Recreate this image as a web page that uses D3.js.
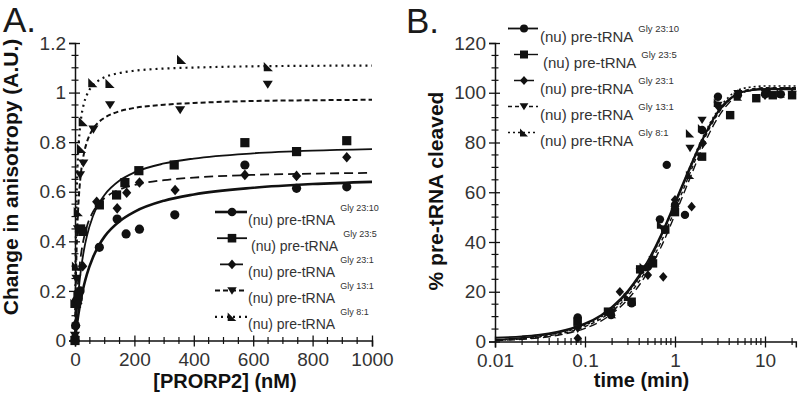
<!DOCTYPE html>
<html>
<head>
<meta charset="utf-8">
<script src="https://cdn.jsdelivr.net/npm/d3@7"></script>
<style>
  body { margin: 0; background: #fff; }
  svg { display: block; font-family: "Liberation Sans", Arial, sans-serif; }
</style>
</head>
<body>
<svg id="fig" width="800" height="395"></svg>
<script>
// ---------- data ----------
const seriesLabels = ["23:10", "23:5", "23:1", "13:1", "8:1"];

// Panel A: anisotropy vs [PRORP2] (nM), measured points [x, y]
const bind2310 = [[0, 0], [2, 0.06], [5, 0.16], [10, 0.17], [17, 0.2], [82, 0.376], [142, 0.49], [172, 0.43], [217, 0.449], [336, 0.507], [572, 0.708], [746, 0.614], [915, 0.62]];
const bind235 = [[0, 0], [5, 0.15], [10, 0.177], [19, 0.45], [26, 0.44], [82, 0.547], [140, 0.587], [168, 0.637], [215, 0.685], [334, 0.708], [572, 0.798], [746, 0.762], [915, 0.806]];
const bind231 = [[0, 0.015], [3, 0.06], [10, 0.15], [26, 0.3], [73, 0.56], [142, 0.533], [174, 0.596], [217, 0.637], [337, 0.607], [572, 0.668], [746, 0.664], [915, 0.739]];
const bind131 = [[0, 0.02], [5, 0.25], [10, 0.45], [17, 0.668], [28, 0.715], [62, 0.852], [118, 0.95], [354, 0.93], [649, 1.033]];
const bind81 = [[0, 0.15], [5, 0.3], [11, 0.52], [22, 0.775], [28, 0.883], [60, 1.04], [118, 1.037], [359, 1.134], [651, 1.105]];

// Panel A fitted curves at these concentrations
const bindFitX = [0, 2, 5, 10, 15, 20, 30, 40, 60, 80, 100, 150, 200, 300, 400, 600, 800, 1000];
const bindFit2310 = [0, 0.021, 0.051, 0.094, 0.132, 0.166, 0.222, 0.267, 0.334, 0.383, 0.42, 0.481, 0.519, 0.564, 0.589, 0.616, 0.631, 0.64];
const bindFit235 = [0, 0.042, 0.098, 0.174, 0.235, 0.286, 0.364, 0.421, 0.5, 0.552, 0.588, 0.645, 0.678, 0.714, 0.734, 0.755, 0.766, 0.772];
const bindFit231 = [0, 0.063, 0.138, 0.23, 0.296, 0.345, 0.414, 0.46, 0.518, 0.552, 0.575, 0.609, 0.627, 0.647, 0.657, 0.668, 0.673, 0.676];
const bindFit131 = [0, 0.178, 0.35, 0.516, 0.613, 0.676, 0.754, 0.8, 0.852, 0.881, 0.899, 0.925, 0.938, 0.951, 0.958, 0.966, 0.969, 0.971];
const bindFit81 = [0, 0.319, 0.558, 0.743, 0.836, 0.892, 0.956, 0.991, 1.029, 1.049, 1.062, 1.079, 1.088, 1.097, 1.101, 1.106, 1.108, 1.109];

// Panel B: % pre-tRNA cleaved vs time (min), measured points [t, %]
const cleave2310 = [[0.083, 9.7], [0.195, 10.6], [0.33, 15.4], [0.5, 30], [0.68, 49.1], [0.81, 71], [1.0, 54.9], [1.29, 50.9], [2.0, 85], [3.0, 98.4], [5, 99], [10, 99.5], [15, 99.4]];
const cleave235 = [[0.083, 8], [0.18, 12], [0.33, 16], [0.41, 29], [0.57, 31.4], [0.78, 45], [1.0, 52], [2.0, 74.3], [4.1, 91], [8, 97.8], [10.4, 99.8], [12.2, 99], [20, 99]];
const cleave231 = [[0.083, 1.3], [0.244, 20], [0.5, 26.7], [0.74, 26], [1.0, 57], [1.53, 54.2], [2.04, 79.7], [3.0, 94.7], [5, 99.5], [10, 99], [20, 99.5]];
const cleave131 = [[0.083, 5], [0.2, 12], [0.41, 28], [0.57, 33], [0.74, 45], [1.0, 53], [1.47, 77.7], [2.0, 89], [3, 95], [5, 99.8], [10, 100], [20, 99.5]];
const cleave81 = [[0.083, 8], [0.2, 11], [0.3, 18], [0.45, 30], [0.7, 47], [1.47, 83.7], [1.47, 67], [2, 85.7], [3, 96], [5, 98.5], [15, 99.8]];

// Panel B fitted curves at these times
const cleaveFitT = [0.01, 0.02, 0.03, 0.05, 0.07, 0.1, 0.15, 0.2, 0.3, 0.5, 0.7, 1, 1.5, 2, 3, 4, 5, 7, 10, 20, 22];
const cleaveFit2310 = [1.5, 2.1, 2.7, 4, 5.3, 7.3, 10.6, 14, 20.5, 32.5, 43, 56, 71, 81, 92.5, 97.5, 99.7, 101, 101.5, 101.5, 101.5];
const cleaveFit235 = [0.8, 1.5, 2.2, 3.5, 4.9, 6.9, 10.2, 13.4, 19.8, 31.5, 42, 55, 70, 80.5, 92, 97, 99.5, 101, 101.3, 101.3, 101.3];
const cleaveFit231 = [0.4, 0.9, 1.4, 2.5, 3.6, 5.3, 8.2, 11.2, 17, 28, 38, 51, 66.5, 77.5, 90, 96, 99, 101, 101.8, 102, 102];
const cleaveFit131 = [0.5, 1.1, 1.7, 2.9, 4.1, 6, 9.1, 12.2, 18.4, 29.8, 40, 53, 68.5, 79.5, 91.5, 97, 99.8, 101.5, 102, 102, 102];
const cleaveFit81 = [0.6, 1.2, 1.9, 3.2, 4.5, 6.5, 9.8, 13, 19.5, 31.3, 42, 55.5, 71, 81.5, 93, 98.5, 101, 102.3, 102.7, 102.7, 102.7];

// Axis ticks
const bindXTicks = [0, 200, 400, 600, 800, 1000];
const bindXTickLabels = ["0", "200", "400", "600", "800", "1000"];
const bindYTicks = [0, 0.2, 0.4, 0.6, 0.8, 1, 1.2];
const bindYTickLabels = ["0", "0.2", "0.4", "0.6", "0.8", "1", "1.2"];
const cleaveXTicks = [0.01, 0.1, 1, 10];
const cleaveXTickLabels = ["0.01", "0.1", "1", "10"];
const cleaveYTicks = [0, 20, 40, 60, 80, 100, 120];
const cleaveYTickLabels = ["0", "20", "40", "60", "80", "100", "120"];

// ---------- styles per series ----------
const shapes = ["circle", "square", "diamond", "down", "corner"];
const dashesA = [null, null, "9,5", "5,3", "2,4"];
const widthsA = [2.6, 1.8, 1.8, 2, 2.2];
const dashesB = [null, null, "8,4", "4,3", "2,3"];
const widthsB = [1.8, 1.4, 1.4, 1.4, 1.6];

const svg = d3.select("#fig");
const ink = "#111";

function markerPath(shape, s) {
  switch (shape) {
    case "circle": return d3.symbol(d3.symbolCircle, Math.PI * s * s)();
    case "square": return `M${-s},${-s}H${s}V${s}H${-s}Z`;
    case "diamond": return `M0,${-s * 1.15}L${s},0L0,${s * 1.15}L${-s},0Z`;
    case "down": return `M${-s * 1.1},${-s * 0.8}L${s * 1.1},${-s * 0.8}L0,${s * 0.95}Z`;
    case "corner": return `M${-s},${-s}L${s},${s}L${-s},${s}Z`;
  }
}

// axis helper: major ticks cross the axis line, plus short minor ticks
function drawAxis(g, axisFn, scale, major, minor, labels, orient) {
  const ax = axisFn(scale).tickValues(major).tickSizeOuter(0).tickSize(6)
    .tickPadding(orient === "left" ? 3 : 6)
    .tickFormat((d, i) => labels[i]);
  g.call(ax);
  g.select(".domain").attr("stroke", ink).attr("stroke-width", 1.5);
  g.selectAll(".tick line").attr("stroke", ink).attr("stroke-width", 1.3)
    .attr(orient === "left" ? "x1" : "y1", orient === "left" ? 5 : -5);
  g.selectAll(".tick text").attr("fill", "#333").style("font-size", "19px");
  g.append("g").selectAll("line").data(minor).join("line")
    .attr("stroke", ink).attr("stroke-width", 1.2)
    .each(function (d) {
      const p = scale(d);
      if (orient === "left") d3.select(this).attr("x1", -3.5).attr("x2", 3.5).attr("y1", p).attr("y2", p);
      else d3.select(this).attr("y1", -3.5).attr("y2", 3.5).attr("x1", p).attr("x2", p);
    });
}

function drawSeries(g, x, y, fitX, fits, pts, dashes, widths, msize) {
  const line = d3.line().x(d => x(d[0])).y(d => y(d[1])).curve(d3.curveMonotoneX);
  fits.forEach((f, i) => {
    g.append("path")
      .datum(fitX.map((v, j) => [v, f[j]]))
      .attr("fill", "none").attr("stroke", ink)
      .attr("stroke-width", widths[i])
      .attr("stroke-dasharray", dashes[i])
      .attr("d", line);
  });
  pts.forEach((p, i) => {
    g.append("g").selectAll("path").data(p).join("path")
      .attr("transform", d => `translate(${x(d[0])},${y(d[1])})`)
      .attr("d", markerPath(shapes[i], msize))
      .attr("fill", ink);
  });
}

function drawLegend(g, cfg) {
  seriesLabels.forEach((lab, i) => {
    const y = cfg.y0 + i * cfg.step;
    const row = g.append("g");
    row.append("line").attr("x1", cfg.x0 + cfg.indents[i]).attr("x2", cfg.x1).attr("y1", y).attr("y2", y)
      .attr("stroke", ink).attr("stroke-width", cfg.widths[i]).attr("stroke-dasharray", cfg.dashes[i]);
    row.append("path").attr("transform", `translate(${(cfg.x0 + cfg.x1) / 2 + 1},${y})`)
      .attr("d", markerPath(shapes[i], cfg.msize)).attr("fill", ink);
    const t = row.append("text").attr("x", cfg.textX + (i === 1 ? 3 : 0)).attr("y", y + cfg.base)
      .attr("fill", "#333").style("font-size", cfg.fs + "px");
    t.append("tspan").text("(nu) pre-tRNA");
    t.append("tspan").attr("dx", 5).attr("dy", -cfg.raise).style("font-size", cfg.sfs + "px").text("Gly " + lab);
  });
}

// ---------- Panel A ----------
const xA = d3.scaleLinear().domain([0, 1000]).range([75, 372]);
const yA = d3.scaleLinear().domain([0, 1.2]).range([340.5, 43]);

drawAxis(svg.append("g").attr("transform", `translate(0,${yA(0)})`), d3.axisBottom, xA,
  bindXTicks, d3.range(50, 1000, 50).filter(v => v % 200 !== 0), bindXTickLabels, "bottom");
drawAxis(svg.append("g").attr("transform", `translate(${xA(0)},0)`), d3.axisLeft, yA,
  bindYTicks, d3.range(1, 24).filter(k => k % 4 !== 0).map(k => k * 0.05), bindYTickLabels, "left");

drawSeries(svg.append("g"), xA, yA, bindFitX,
  [bindFit2310, bindFit235, bindFit231, bindFit131, bindFit81],
  [bind2310, bind235, bind231, bind131, bind81], dashesA, widthsA, 4.6);

drawLegend(svg.append("g"), {
  x0: 215, x1: 247, y0: 212, step: 26.2, textX: 248, base: 12.5, fs: 14, sfs: 9, raise: 14,
  dashes: dashesA, widths: widthsA, msize: 4.3, indents: [0, 2, 5, 0, 0]
});

svg.append("text").attr("x", 3).attr("y", 32).attr("fill", "#1a1a1a").style("font-size", "35px").text("A.");
svg.append("text").attr("transform", "translate(18,177) rotate(-90)").attr("text-anchor", "middle")
  .attr("fill", ink).style("font-size", "21px").style("font-weight", "bold").text("Change in anisotropy (A.U.)");
svg.append("text").attr("x", 225).attr("y", 388).attr("text-anchor", "middle")
  .attr("fill", ink).style("font-size", "20px").style("font-weight", "bold").text("[PRORP2] (nM)");

// ---------- Panel B ----------
const xB = d3.scaleLog().domain([0.01, 22]).range([495, 495 + 90 * Math.log10(2200)]);
const yB = d3.scaleLinear().domain([0, 120]).range([341.5, 43]);

const logMinor = [];
[0.01, 0.1, 1, 10].forEach(dec => d3.range(2, 10).forEach(k => { if (dec * k <= 20) logMinor.push(dec * k); }));

drawAxis(svg.append("g").attr("transform", `translate(0,${yB(0)})`), d3.axisBottom, xB,
  cleaveXTicks, logMinor, cleaveXTickLabels, "bottom");
drawAxis(svg.append("g").attr("transform", `translate(${xB(0.01)},0)`), d3.axisLeft, yB,
  cleaveYTicks, d3.range(5, 120, 5).filter(v => v % 20 !== 0), cleaveYTickLabels, "left");

drawSeries(svg.append("g"), xB, yB, cleaveFitT,
  [cleaveFit2310, cleaveFit235, cleaveFit231, cleaveFit131, cleaveFit81],
  [cleave2310, cleave235, cleave231, cleave131, cleave81], dashesB, widthsB, 4.2);

drawLegend(svg.append("g"), {
  x0: 508, x1: 538, y0: 28.5, step: 26, textX: 540, base: 13, fs: 15, sfs: 9.5, raise: 10,
  dashes: dashesB, widths: widthsB, msize: 4, indents: [0, 6, 6, 0, 0]
});

svg.append("text").attr("x", 406).attr("y", 33).attr("fill", "#1a1a1a").style("font-size", "35px").text("B.");
svg.append("text").attr("transform", "translate(443,191) rotate(-90)").attr("text-anchor", "middle")
  .attr("fill", ink).style("font-size", "21px").style("font-weight", "bold").text("% pre-tRNA cleaved");
svg.append("text").attr("x", 641.5).attr("y", 387).attr("text-anchor", "middle")
  .attr("fill", ink).style("font-size", "20px").style("font-weight", "bold").text("time (min)");
</script>
</body>
</html>
